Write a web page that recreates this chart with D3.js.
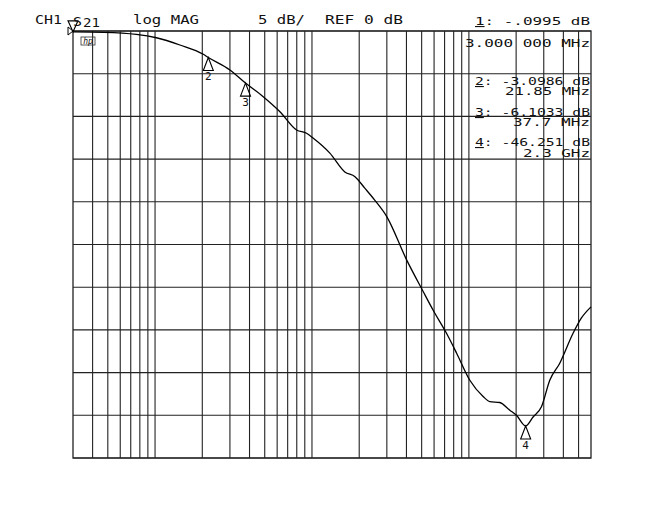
<!DOCTYPE html>
<html>
<head>
<meta charset="utf-8">
<script src="https://cdn.jsdelivr.net/npm/d3@7"></script>
<style>
  body { margin: 0; background: #fff; }
  text { font-family: "DejaVu Sans Mono", monospace; fill: #111; }
</style>
</head>
<body>
<div id="chart"></div>
<script>
// trace: frequency (MHz) vs S21 magnitude (dB)
var freqs = [3, 4.7, 7.6, 10.2, 14.4, 20.3, 21.85, 30, 37.7, 48.9, 62.5, 79.8, 92.4, 102, 130, 162, 188, 217, 251, 299, 401, 511, 592, 720, 834, 1014, 1232, 1359, 1573, 1822, 2010, 2300, 2565, 2900, 3277, 3795, 4612, 5214, 6000];
var mags  = [-0.1, -0.15, -0.39, -0.79, -1.64, -2.73, -3.1, -4.56, -6.1, -7.69, -9.45, -11.59, -11.98, -12.56, -14.3, -16.5, -17.06, -18.4, -19.8, -21.7, -26.8, -30.5, -32.7, -35.4, -37.7, -40.9, -42.8, -43.4, -43.5, -44.4, -45.0, -46.25, -45.2, -44.0, -40.9, -38.9, -35.4, -33.6, -32.3];

// markers
var markerNums  = [1, 2, 3, 4];
var markerFreqs = [3, 21.85, 37.7, 2300];
var markerMags  = [-0.0995, -3.0986, -6.1033, -46.251];
var markerVal   = ["-.0995", "-3.0986", "-6.1033", "-46.251"];
var markerFreqLabel = ["3.000 000 MHz", "21.85 MHz", "37.7 MHz", "2.3 GHz"];

var fStart = 3, fStop = 6000;      // MHz, log sweep
var refLevel = 0, perDiv = 5, nDiv = 10;

var svg = d3.select("#chart")
  .append("svg")
  .attr("width", 657)
  .attr("height", 528);

var pLeft = 73, pRight = 591, pTop = 31, pBottom = 458;

var x = d3.scaleLog().domain([fStart, fStop]).range([pLeft, pRight]);
var y = d3.scaleLinear().domain([refLevel - perDiv * nDiv, refLevel]).range([pBottom, pTop]);

// grid
var grid = svg.append("g").attr("class", "grid");
grid.selectAll(".vline")
  .data(x.ticks().filter(function(d){ return d > fStart && d < fStop; }))
  .enter().append("line")
  .attr("x1", function(d){ return x(d); })
  .attr("x2", function(d){ return x(d); })
  .attr("y1", pTop).attr("y2", pBottom)
  .attr("stroke", "#222").attr("stroke-width", 1.1);

grid.selectAll(".hline")
  .data(y.ticks(nDiv))
  .enter().append("line")
  .attr("x1", pLeft).attr("x2", pRight)
  .attr("y1", function(d){ return y(d); })
  .attr("y2", function(d){ return y(d); })
  .attr("stroke", "#222").attr("stroke-width", 1.1);

grid.append("rect")
  .attr("x", pLeft).attr("y", pTop)
  .attr("width", pRight - pLeft).attr("height", pBottom - pTop)
  .attr("fill", "none").attr("stroke", "#222").attr("stroke-width", 1.3);

// trace
var line = d3.line()
  .x(function(d){ return x(d[0]); })
  .y(function(d){ return y(d[1]); })
  .curve(d3.curveMonotoneX);

svg.append("path")
  .datum(d3.zip(freqs, mags))
  .attr("d", line)
  .attr("fill", "none")
  .attr("stroke", "#000")
  .attr("stroke-width", 1.3);

// marker triangles (2..4 below the trace, 1 is the active one shown above)
for (var i = 1; i < markerNums.length; i++) {
  var mx = x(markerFreqs[i]), my = y(markerMags[i]);
  svg.append("path")
    .attr("d", "M" + mx + "," + my + " L" + (mx - 5) + "," + (my + 13) + " L" + (mx + 5) + "," + (my + 13) + " Z")
    .attr("fill", "none").attr("stroke", "#000").attr("stroke-width", 1.1);
  svg.append("text")
    .attr("x", mx).attr("y", my + 23)
    .attr("text-anchor", "middle")
    .style("font-size", "11px")
    .text(markerNums[i]);
}
var m1x = x(markerFreqs[0]), m1y = y(markerMags[0]);
svg.append("path")
  .attr("d", "M" + m1x + "," + m1y + " L" + (m1x - 5) + "," + (m1y - 11) + " L" + (m1x + 5) + "," + (m1y - 11) + " Z")
  .attr("fill", "none").attr("stroke", "#000").attr("stroke-width", 1.1);
svg.append("path")
  .attr("d", "M" + (pLeft - 5) + "," + (pTop - 4) + " L" + pLeft + "," + pTop + " L" + (pLeft - 5) + "," + (pTop + 4) + " Z")
  .attr("fill", "none").attr("stroke", "#000").attr("stroke-width", 1);

// header
function label(txt, tx, ty, w, size) {
  var t = svg.append("text").attr("x", tx).attr("y", ty)
    .style("font-size", (size || 12) + "px").text(txt);
  if (w) t.attr("textLength", w).attr("lengthAdjust", "spacingAndGlyphs");
  return t;
}
label("CH1", 35, 24, 27);
label("S", 73, 26, 9);
label("21", 83, 27, 17);
label("log MAG", 133, 24, 66);
label("5 dB/", 258, 24, 47);
label("REF 0 dB", 325, 24, 78);

// marker readouts
var rx = 475, rRight = 590;
function readout(n, val, ty, ty2, freqTxt, fx) {
  var t = svg.append("text").attr("x", rx).attr("y", ty).style("font-size", "11px")
    .attr("textLength", rRight - rx).attr("lengthAdjust", "spacingAndGlyphs");
  t.append("tspan").style("text-decoration", "underline").text(n);
  t.append("tspan").text(": " + val + (val.length < 7 ? "  dB" : " dB"));
  svg.append("text").attr("x", fx).attr("y", ty2).style("font-size", "11px")
    .attr("textLength", rRight - fx).attr("lengthAdjust", "spacingAndGlyphs")
    .text(freqTxt);
}
readout(markerNums[0], markerVal[0], 25, 47, markerFreqLabel[0], 465);
readout(markerNums[1], markerVal[1], 85, 95, markerFreqLabel[1], 505);
readout(markerNums[2], markerVal[2], 116, 126, markerFreqLabel[2], 513);
readout(markerNums[3], markerVal[3], 146, 157, markerFreqLabel[3], 523);

// hp logo
svg.append("rect").attr("x", 81).attr("y", 37).attr("width", 14).attr("height", 8)
  .attr("fill", "none").attr("stroke", "#333").attr("stroke-width", 0.8);
svg.append("text").attr("x", 88).attr("y", 44).attr("text-anchor", "middle")
  .style("font-size", "8px").style("font-style", "italic").text("hp");
</script>
</body>
</html>
